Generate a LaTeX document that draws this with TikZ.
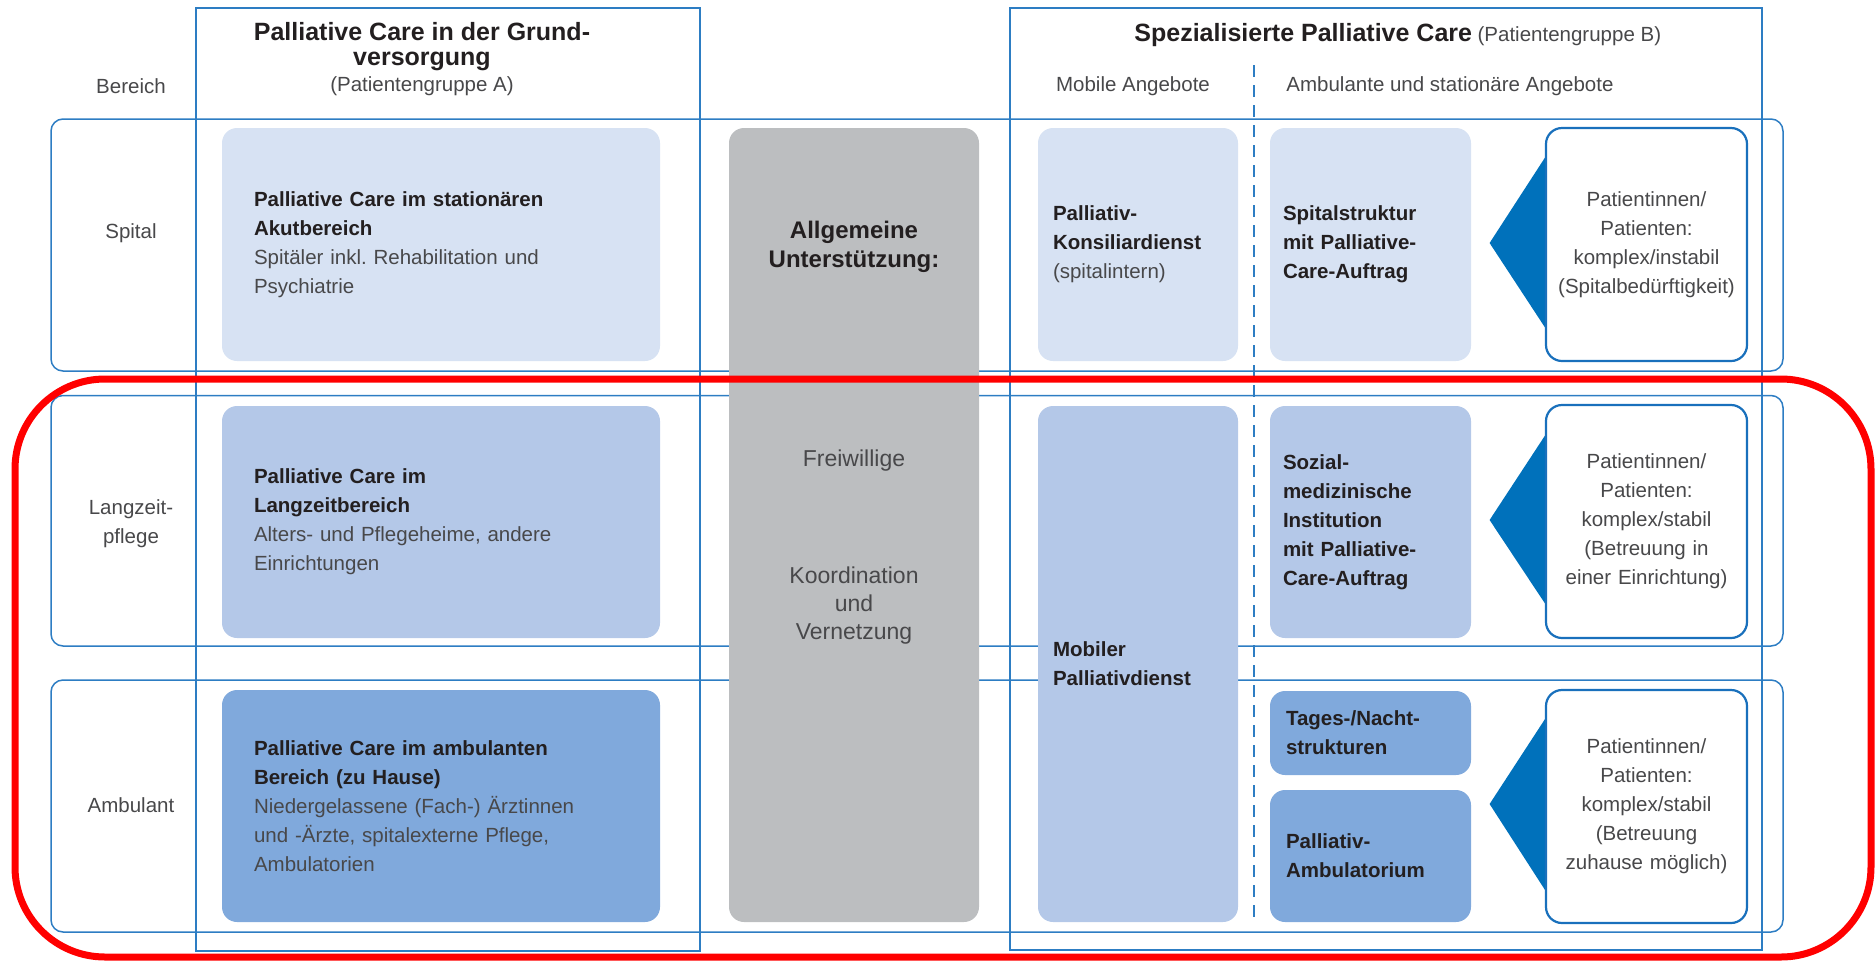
\documentclass[tikz,border=0pt]{standalone}
\usepackage{fontspec}
\setmainfont{Liberation Sans}
\usetikzlibrary{calc}
\frenchspacing
\definecolor{lineblue}{RGB}{45,125,195}
\definecolor{patblue}{RGB}{25,112,188}
\definecolor{triblue}{RGB}{0,113,187}
\definecolor{boxA}{RGB}{215,226,243}
\definecolor{boxB}{RGB}{180,200,232}
\definecolor{boxC}{RGB}{128,169,220}
\definecolor{greycol}{RGB}{188,190,192}
\definecolor{txtdark}{RGB}{35,31,32}
\definecolor{txtgrey}{RGB}{72,72,74}
\definecolor{focusred}{RGB}{255,0,0}
\newcommand{\boldline}[1]{{\bfseries\color{txtdark}#1}}
\tikzset{
  lbl/.style={font=\fontsize{10.25}{14.5}\selectfont, text=txtgrey, inner sep=0pt, align=center},
  fillbox/.style={rounded corners=7.5pt, inner sep=0pt, align=left, font=\fontsize{10.25}{14.5}\selectfont, text=txtgrey},
  rowbox/.style={draw=lineblue, line width=0.75pt, rounded corners=6pt, inner sep=0pt},
  colbox/.style={draw=lineblue, line width=0.75pt, inner sep=0pt},
  patbox/.style={draw=patblue, line width=1.1pt, fill=white, rounded corners=8pt, inner sep=0pt, align=center, text width=95pt, font=\fontsize{10.25}{14.5}\selectfont, text=txtgrey},
  greytext/.style={inner sep=0pt, align=center, text=txtgrey, font=\fontsize{11.5}{14}\selectfont},
}
\begin{document}
\begin{tikzpicture}[x=0.5pt,y=-0.5pt]
\useasboundingbox (0,0) rectangle (1876,960);

% rows
\node[rowbox, minimum width=866pt, minimum height=126pt] (rowS) at (917,245) {};
\node[rowbox, minimum width=866pt, minimum height=125.25pt] (rowL) at (917,520.75) {};
\node[rowbox, minimum width=866pt, minimum height=126pt] (rowA) at (917,806) {};

% columns
\node[colbox, minimum width=252pt, minimum height=471.5pt] (grund) at (448,479.5) {};
\node[colbox, minimum width=376pt, minimum height=471pt] (spez) at (1386,479) {};

% headers
\node[lbl] (bereich) at (131,86) {Bereich};
\node[inner sep=0pt, align=center, text=txtdark, font=\bfseries\fontsize{12.5}{12.5}\selectfont] (titA) at (422,47) {Palliative Care in der Grund-\\versorgung};
\node[lbl] (grpA) at (422,86) {(Patientengruppe A)};
\node[inner sep=0pt, anchor=west] (titB) at (1134,35) {{\bfseries\color{txtdark}\fontsize{12.5}{14}\selectfont Spezialisierte Palliative Care} {\color{txtgrey}\fontsize{10.25}{12}\selectfont(Patientengruppe B)}};
\node[lbl] (mobang) at (1133,86) {Mobile Angebote};
\node[lbl, anchor=west] (ambang) at (1286,86) {Ambulante und stationäre Angebote};

% row labels
\node[lbl] (lblS) at (131,233) {Spital};
\node[lbl] (lblL) at (131,524) {Langzeit-\\pflege};
\node[lbl] (lblA) at (131,805) {Ambulant};

% dashed separator
\coordinate (dtop) at (1254,65);
\coordinate (dbot) at (1254,921);
\draw[lineblue, line width=0.8pt, dash pattern=on 6pt off 4pt] (dtop) -- (dbot);

% group A boxes
\node[fillbox, fill=boxA, minimum width=219pt, minimum height=116.5pt, text width=187pt] (sA) at (441,244.5)
  {\boldline{Palliative Care im stationären}\\\boldline{Akutbereich}\\Spitäler inkl. Rehabilitation und\\Psychiatrie};
\node[fillbox, fill=boxB, minimum width=219pt, minimum height=116pt, text width=187pt] (lA) at (441,522)
  {\boldline{Palliative Care im}\\\boldline{Langzeitbereich}\\Alters- und Pflegeheime, andere\\Einrichtungen};
\node[fillbox, fill=boxC, minimum width=219pt, minimum height=116pt, text width=187pt] (aA) at (441,806)
  {\boldline{Palliative Care im ambulanten}\\\boldline{Bereich (zu Hause)}\\Niedergelassene (Fach-) Ärztinnen\\und -Ärzte, spitalexterne Pflege,\\Ambulatorien};

% grey column
\node[fill=greycol, rounded corners=7.5pt, inner sep=0pt, minimum width=125pt, minimum height=397pt] (grey) at (854,525) {};
\node[greytext, text=txtdark, font=\bfseries\fontsize{12}{14.5}\selectfont] (allg) at (854,247) {Allgemeine\\Unterstützung:};
\node[greytext] (frei) at (854,461) {Freiwillige};
\node[greytext] (koord) at (854,606) {Koordination\\und\\Vernetzung};

% group B boxes
\node[fillbox, fill=boxA, minimum width=100pt, minimum height=116.5pt, text width=85pt] (kons) at (1138,244.5)
  {\boldline{Palliativ-}\\\boldline{Konsiliardienst}\\(spitalintern)};
\node[fillbox, fill=boxB, minimum width=100pt, minimum height=258pt, text width=85pt] (mob) at (1138,664)
  {\boldline{Mobiler}\\\boldline{Palliativdienst}};
\node[fillbox, fill=boxA, minimum width=100.5pt, minimum height=116.5pt, text width=87.5pt] (spst) at (1370.5,244.5)
  {\boldline{Spitalstruktur}\\\boldline{mit Palliative-}\\\boldline{Care-Auftrag}};
\node[fillbox, fill=boxB, minimum width=100.5pt, minimum height=116pt, text width=87.5pt] (soz) at (1370.5,522)
  {\boldline{Sozial-}\\\boldline{medizinische}\\\boldline{Institution}\\\boldline{mit Palliative-}\\\boldline{Care-Auftrag}};
\node[fillbox, fill=boxC, minimum width=100.5pt, minimum height=42pt, text width=84.5pt] (tag) at (1370.5,733)
  {\boldline{Tages-/Nacht-}\\\boldline{strukturen}};
\node[fillbox, fill=boxC, minimum width=100.5pt, minimum height=66pt, text width=84.5pt] (amb) at (1370.5,856)
  {\boldline{Palliativ-}\\\boldline{Ambulatorium}};

% patient boxes with wedges
\coordinate (p1pos) at (1646.5,244.5);
\coordinate (p2pos) at (1646.5,521.5);
\coordinate (p3pos) at (1646.5,806.5);
\path (p1pos) node[minimum width=100.5pt, minimum height=116.5pt, inner sep=0pt] (p1shape) {};
\path (p2pos) node[minimum width=100.5pt, minimum height=116.5pt, inner sep=0pt] (p2shape) {};
\path (p3pos) node[minimum width=100.5pt, minimum height=116.5pt, inner sep=0pt] (p3shape) {};
\fill[triblue] ($(p1shape.north west)+(0,29)$) -- ($(p1shape.west)+(-56,-1.5)$) -- ($(p1shape.south west)+(0,-33)$) -- cycle;
\fill[triblue] ($(p2shape.north west)+(0,30)$) -- ($(p2shape.west)+(-56,-1.5)$) -- ($(p2shape.south west)+(0,-34)$) -- cycle;
\fill[triblue] ($(p3shape.north west)+(0,28.5)$) -- ($(p3shape.west)+(-56,-2.5)$) -- ($(p3shape.south west)+(0,-32.5)$) -- cycle;
\node[patbox, minimum width=100.5pt, minimum height=116.5pt] (p1) at (p1pos)
  {Patientinnen/\\Patienten:\\komplex/instabil\\(Spitalbedürftigkeit)};
\node[patbox, minimum width=100.5pt, minimum height=116.5pt] (p2) at (p2pos)
  {Patientinnen/\\Patienten:\\komplex/stabil\\(Betreuung in\\einer Einrichtung)};
\node[patbox, minimum width=100.5pt, minimum height=116.5pt] (p3) at (p3pos)
  {Patientinnen/\\Patienten:\\komplex/stabil\\(Betreuung\\zuhause möglich)};

% red highlight
\node[draw=focusred, line width=3.5pt, rounded corners=45pt, inner sep=0pt, minimum width=928pt, minimum height=289pt] (focus) at (943,668) {};
\end{tikzpicture}
\end{document}
